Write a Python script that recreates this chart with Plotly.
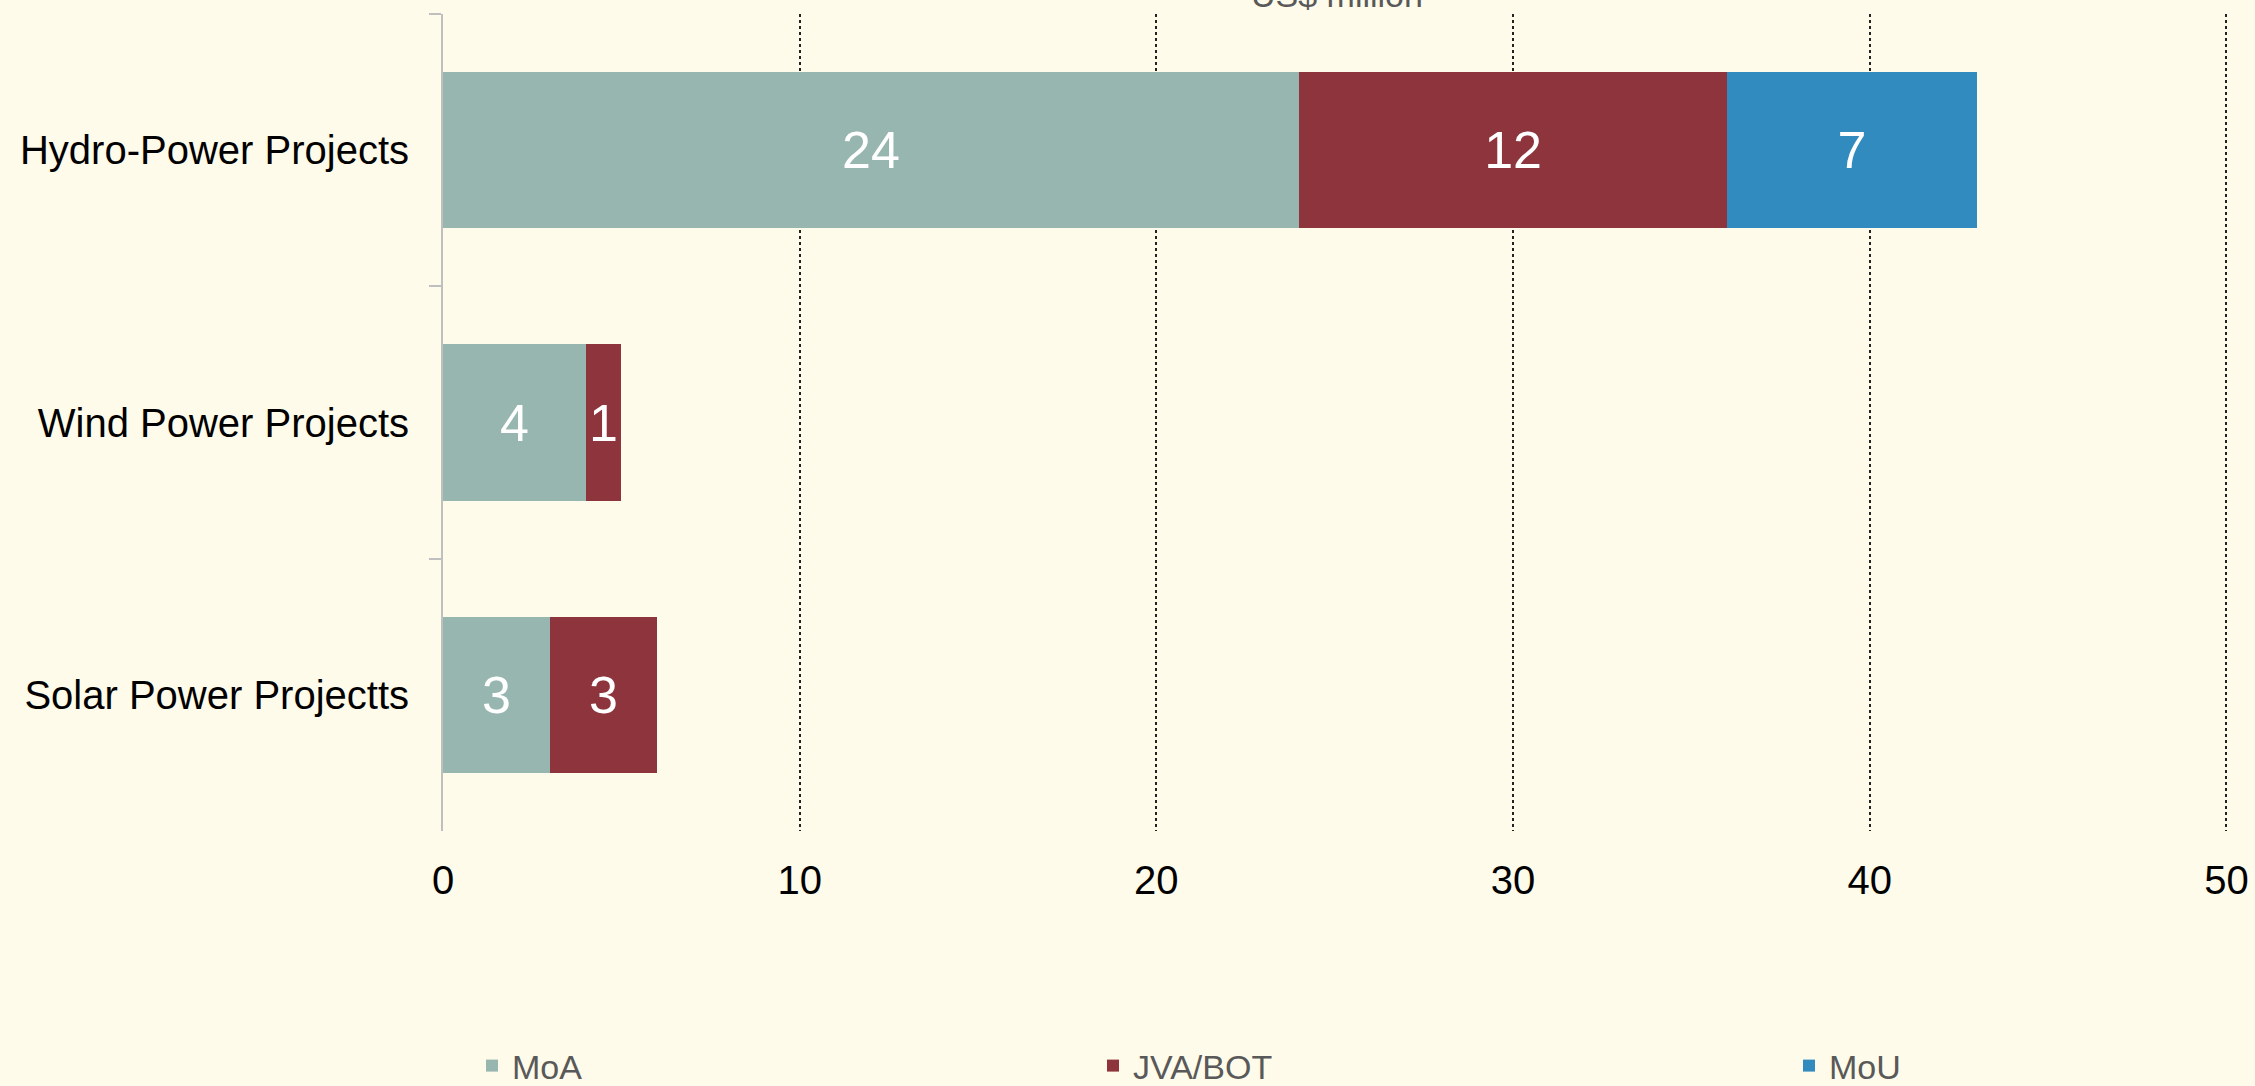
import plotly.graph_objects as go

categories = ["Hydro-Power Projects", "Wind Power Projects", "Solar Power Projectts"]

moa = [24, 4, 3]
jva_bot = [12, 1, 3]
mou = [7, None, None]

x_ticks = [0, 10, 20, 30, 40, 50]

bg = "#FEFBEA"
colors = {"MoA": "#97B6B0", "JVA/BOT": "#8E343C", "MoU": "#328BBF"}

series = [("MoA", moa, "legend"), ("JVA/BOT", jva_bot, "legend2"), ("MoU", mou, "legend3")]

fig = go.Figure()
for name, vals, leg in series:
    fig.add_trace(go.Bar(
        y=categories,
        x=vals,
        name=name,
        orientation="h",
        marker=dict(color=colors[name], line=dict(width=0)),
        text=vals,
        textposition="inside",
        insidetextanchor="middle",
        constraintext="none",
        textfont=dict(color="white", size=52, family="Liberation Sans, Arial"),
        legend=leg,
        showlegend=True,
    ))

legend_style = dict(
    orientation="h",
    xref="container", yref="container",
    yanchor="middle",
    bgcolor="rgba(0,0,0,0)",
    font=dict(size=34, color="#595959", family="Liberation Sans, Arial"),
    visible=True,
)

# a touch past 50 so the grid line at 50 sits inside the plot
fig.update_layout(
    width=2255, height=1086,
    showlegend=True,
    barmode="stack",
    bargap=0.426,
    paper_bgcolor=bg,
    plot_bgcolor=bg,
    margin=dict(l=443, r=25, t=14, b=255, autoexpand=False),
    font=dict(family="Liberation Sans, Arial", color="black"),
    legend=dict(legend_style, x=472 / 2255, y=20 / 1086),
    legend2=dict(legend_style, x=1093 / 2255, y=20 / 1086),
    legend3=dict(legend_style, x=1789 / 2255, y=20 / 1086),
    xaxis=dict(
        range=[0, 50.1],
        tickvals=x_ticks,
        showgrid=True,
        gridcolor="#222222",
        griddash="dot",
        gridwidth=2,
        zeroline=False,
        showline=False,
        ticks="",
        ticklabelstandoff=22,
        tickfont=dict(size=40, color="black"),
    ),
    yaxis=dict(
        autorange="reversed",
        showline=True,
        linecolor="#BFBFBF",
        linewidth=2,
        ticks="outside",
        tickson="boundaries",
        ticklen=12,
        tickcolor="#BFBFBF",
        tickwidth=2,
        showgrid=False,
        tickfont=dict(size=40, color="black"),
        ticklabelstandoff=24,
    ),
    annotations=[dict(
        text="US$ million",
        xref="paper", yref="paper",
        x=0.5, y=1,
        xanchor="center", yanchor="bottom",
        yshift=-2,
        showarrow=False,
        font=dict(size=34, color="#595959"),
    )],
)

fig.write_html(
    "out.html",
    config={"displayModeBar": False},
    post_script="document.body.style.margin='0';",
)
